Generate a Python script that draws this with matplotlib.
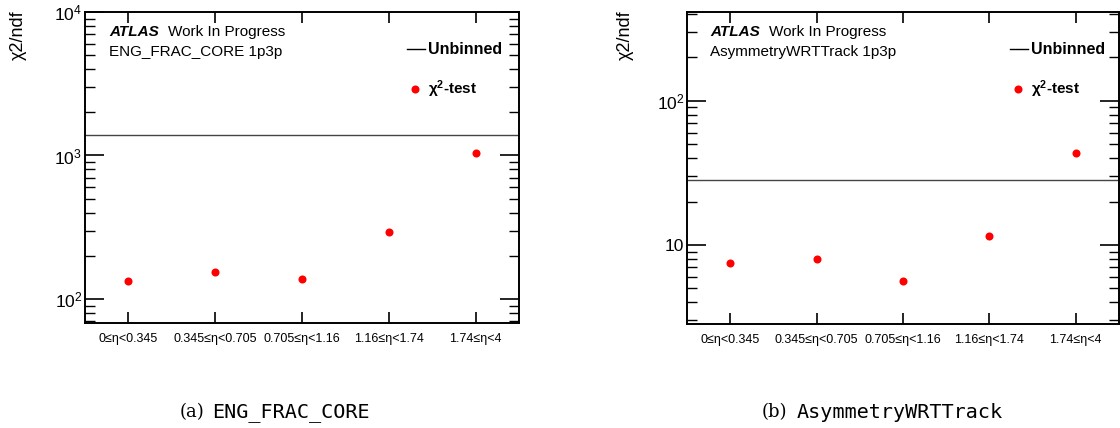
import matplotlib
matplotlib.use("Agg")
import matplotlib.pyplot as plt
import numpy as np
from matplotlib.ticker import LogLocator, NullFormatter, FuncFormatter
from matplotlib.lines import Line2D

categories = ["0≤η<0.345", "0.345≤η<0.705", "0.705≤η<1.16", "1.16≤η<1.74", "1.74≤η<4"]
chi2_eng = [134, 155, 138, 294, 1045]
unbinned_eng = 1400
chi2_asym = [7.5, 8.0, 5.6, 11.5, 43.4]
unbinned_asym = 28.4
var_names = ["ENG_FRAC_CORE", "AsymmetryWRTTrack"]
panel_tags = ["(a)", "(b)"]

W, H = 1120, 428
fig = plt.figure(figsize=(W/100, H/100), dpi=100)
SANS = "Liberation Sans"

def px_rect(x0, x1, y0, y1):
    return [x0/W, 1 - y1/H, (x1-x0)/W, (y1-y0)/H]

panels = [
    dict(rect=px_rect(85, 519, 12, 323), vals=chi2_eng, line=unbinned_eng, ylim=(68, 10000),
         atlas_x=109, leg_x=406, ylab_x=18, var=var_names[0], tag=panel_tags[0],
         cap_tag_x=204, cap_var_x=212),
    dict(rect=px_rect(687, 1119, 12, 324), vals=chi2_asym, line=unbinned_asym, ylim=(2.835, 412),
         atlas_x=710, leg_x=1009, ylab_x=625, var=var_names[1], tag=panel_tags[1],
         cap_tag_x=787, cap_var_x=797),
]

def logfmt(v, pos):
    e = int(round(np.log10(v)))
    if e == 1:
        return "10"
    return r"$\mathregular{10^{%d}}$" % e

for p in panels:
    ax = fig.add_axes(p["rect"])
    ax.set_yscale("log")
    x = np.arange(len(categories))
    ax.axhline(p["line"], color="#444444", lw=1.0, zorder=1)
    ax.plot(x, p["vals"], "o", color="#ff0000", ms=5.8, mec="none", zorder=3)
    ax.set_xlim(-0.5, len(categories) - 0.5)
    ax.set_ylim(*p["ylim"])
    ax.set_xticks(x)
    ax.set_xticklabels(categories, fontsize=9, family=SANS)
    ax.yaxis.set_major_locator(LogLocator(base=10, numticks=10))
    ax.yaxis.set_minor_locator(LogLocator(base=10, subs=np.arange(2, 10), numticks=20))
    ax.yaxis.set_minor_formatter(NullFormatter())
    ax.yaxis.set_major_formatter(FuncFormatter(logfmt))
    for lab in ax.get_yticklabels():
        lab.set_family(SANS)
    ax.tick_params(axis="y", which="major", direction="in", length=14, width=1.2,
                   left=True, right=True, labelsize=12.5, pad=2)
    ax.tick_params(axis="y", which="minor", direction="in", length=7, width=1.0,
                   left=True, right=True)
    ax.tick_params(axis="x", which="major", direction="in", length=8, width=1.2,
                   top=True, bottom=True, pad=7)
    ax.tick_params(axis="x", which="minor", bottom=False, top=False)
    for s in ax.spines.values():
        s.set_linewidth(1.4)
    # texts
    fig.text(p["atlas_x"]/W, 1 - 32/H, "ATLAS", fontsize=11, family=SANS,
             weight="bold", style="italic", va="center", ha="left")
    fig.text((p["atlas_x"] + 59)/W, 1 - 32/H, "Work In Progress", fontsize=11,
             family=SANS, va="center", ha="left")
    fig.text(p["atlas_x"]/W, 1 - 52/H, p["var"] + " 1p3p", fontsize=11,
             family=SANS, va="center", ha="left")
    # legend
    lx = p["leg_x"]
    fig.add_artist(Line2D([(lx+1)/W, (lx+19)/W], [1-49/H, 1-49/H], color="black", lw=1.0))
    fig.text((lx+22)/W, 1 - 49/H, "Unbinned", fontsize=11.5, family=SANS,
             weight="bold", va="center", ha="left")
    fig.add_artist(Line2D([(lx+9)/W], [1-89/H], marker="o", color="#ff0000",
                          ms=5.8, mec="none", ls="none"))
    fig.text((lx+22)/W, 1 - 89/H, r"$\mathregular{\chi^2}$-test", fontsize=11,
             family=SANS, weight="bold", va="center", ha="left")
    # y label
    fig.text(p["ylab_x"]/W, 1 - 10/H, "χ2/ndf", rotation=90, fontsize=13,
             family=SANS, va="top", ha="center")
    # caption
    fig.text(p["cap_tag_x"]/W, 1 - 412/H, p["tag"], fontsize=13, family="DejaVu Serif",
             va="center", ha="right")
    fig.text(p["cap_var_x"]/W, 1 - 412/H, p["var"], fontsize=14.5, family="DejaVu Sans Mono",
             va="center", ha="left")

fig.savefig("out.png", dpi=100)
